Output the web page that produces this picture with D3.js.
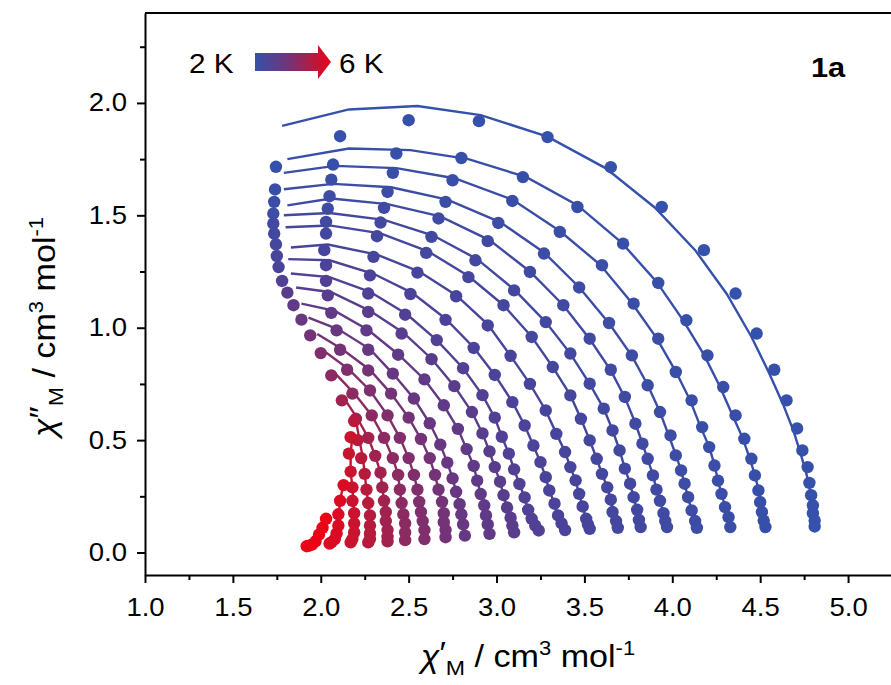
<!DOCTYPE html>
<html>
<head>
<meta charset="utf-8">
<script src="https://cdn.jsdelivr.net/npm/d3@7"></script>
<style>
  body { margin: 0; background: #fff; }
  text { font-family: Arial, "Liberation Sans", sans-serif; fill: #000; }
</style>
</head>
<body>
<svg id="chart" width="891" height="685"></svg>
<script>
// Cole-Cole plot, chi'' vs chi', 2 K -> 6 K

// Temperatures (K)
var temps = [2.0, 2.2, 2.4, 2.6, 2.8, 3.0, 3.2, 3.4, 3.6, 3.8, 4.0,
             4.2, 4.4, 4.6, 4.8, 5.0, 5.2, 5.4, 5.6, 5.8, 6.0];

// Measured points [chi', chi''] per temperature
var measured = [
  [[1.745,1.716],[2.11,1.852],[2.50,1.923],[2.90,1.919],[3.29,1.848],[3.65,1.714],[3.94,1.537],[4.18,1.345],[4.36,1.152],[4.48,0.974],[4.58,0.813],[4.65,0.677],[4.71,0.552],[4.74,0.454],[4.77,0.38],[4.78,0.31],[4.79,0.255],[4.80,0.21],[4.80,0.175],[4.81,0.142],[4.81,0.116]],
  [[1.74,1.615],[2.07,1.726],[2.43,1.775],[2.80,1.755],[3.15,1.67],[3.46,1.537],[3.72,1.374],[3.92,1.199],[4.08,1.033],[4.20,0.877],[4.29,0.736],[4.36,0.61],[4.41,0.506],[4.45,0.417],[4.47,0.343],[4.49,0.276],[4.50,0.224],[4.51,0.18],[4.52,0.142],[4.53,0.113]],
  [[1.735,1.56],[2.06,1.659],[2.41,1.689],[2.75,1.656],[3.09,1.564],[3.36,1.426],[3.60,1.278],[3.78,1.107],[3.92,0.951],[4.02,0.803],[4.11,0.677],[4.17,0.558],[4.21,0.469],[4.24,0.387],[4.26,0.32],[4.28,0.261],[4.30,0.202],[4.32,0.157],[4.33,0.113]],
  [[1.73,1.508],[2.05,1.585],[2.38,1.604],[2.71,1.56],[3.01,1.466],[3.27,1.33],[3.47,1.179],[3.64,1.021],[3.77,0.877],[3.86,0.744],[3.93,0.625],[3.99,0.521],[4.02,0.432],[4.05,0.365],[4.07,0.306],[4.09,0.246],[4.11,0.187],[4.13,0.14],[4.14,0.11]],
  [[1.73,1.463],[2.04,1.53],[2.36,1.533],[2.67,1.486],[2.95,1.385],[3.19,1.248],[3.38,1.10],[3.53,0.951],[3.65,0.813],[3.73,0.692],[3.79,0.573],[3.83,0.484],[3.86,0.417],[3.89,0.343],[3.91,0.28],[3.93,0.23],[3.95,0.175],[3.96,0.14],[3.97,0.113]],
  [[1.735,1.419],[2.03,1.471],[2.34,1.468],[2.63,1.404],[2.88,1.30],[3.10,1.166],[3.28,1.025],[3.42,0.885],[3.53,0.751],[3.61,0.64],[3.66,0.543],[3.70,0.454],[3.73,0.373],[3.76,0.306],[3.78,0.246],[3.80,0.19],[3.81,0.145],[3.82,0.113]],
  [[1.745,1.371],[2.03,1.419],[2.32,1.407],[2.60,1.333],[2.84,1.225],[3.04,1.10],[3.20,0.959],[3.32,0.825],[3.42,0.699],[3.48,0.595],[3.53,0.499],[3.57,0.417],[3.60,0.35],[3.63,0.29],[3.65,0.235],[3.66,0.18],[3.68,0.14],[3.69,0.11]],
  [[1.75,1.319],[2.02,1.345],[2.30,1.315],[2.55,1.245],[2.77,1.14],[2.95,1.01],[3.08,0.875],[3.19,0.75],[3.28,0.632],[3.34,0.528],[3.39,0.447],[3.42,0.38],[3.45,0.321],[3.47,0.261],[3.49,0.205],[3.51,0.15],[3.52,0.125],[3.53,0.105]],
  [[1.76,1.27],[2.03,1.278],[2.28,1.233],[2.51,1.15],[2.71,1.035],[2.87,0.91],[2.99,0.79],[3.09,0.669],[3.16,0.565],[3.21,0.476],[3.25,0.402],[3.28,0.335],[3.30,0.276],[3.33,0.217],[3.35,0.165],[3.37,0.13],[3.39,0.1]],
  [[1.78,1.208],[2.03,1.208],[2.27,1.152],[2.48,1.058],[2.66,0.945],[2.81,0.82],[2.92,0.70],[2.99,0.60],[3.03,0.515],[3.07,0.44],[3.10,0.37],[3.13,0.305],[3.16,0.245],[3.18,0.19],[3.20,0.15],[3.22,0.12],[3.24,0.098]],
  [[1.81,1.156],[2.04,1.144],[2.27,1.07],[2.46,0.974],[2.63,0.86],[2.76,0.74],[2.86,0.625],[2.92,0.53],[2.96,0.45],[2.99,0.38],[3.02,0.315],[3.04,0.255],[3.06,0.2],[3.08,0.155],[3.09,0.12],[3.10,0.09]],
  [[1.845,1.10],[2.06,1.066],[2.26,0.988],[2.44,0.88],[2.59,0.77],[2.70,0.655],[2.78,0.55],[2.83,0.46],[2.87,0.385],[2.89,0.32],[2.91,0.26],[2.93,0.21],[2.94,0.165],[2.95,0.125],[2.96,0.083]],
  [[1.89,1.036],[2.09,0.988],[2.27,0.902],[2.41,0.796],[2.53,0.685],[2.62,0.575],[2.68,0.48],[2.72,0.40],[2.75,0.33],[2.77,0.27],[2.79,0.215],[2.80,0.17],[2.81,0.125],[2.82,0.075]],
  [[1.94,0.966],[2.11,0.902],[2.27,0.81],[2.40,0.707],[2.50,0.60],[2.57,0.505],[2.62,0.42],[2.65,0.345],[2.67,0.28],[2.69,0.225],[2.70,0.175],[2.70,0.135],[2.71,0.1],[2.71,0.068]],
  [[2.0,0.887],[2.15,0.813],[2.28,0.721],[2.38,0.61],[2.45,0.51],[2.50,0.42],[2.53,0.345],[2.55,0.28],[2.56,0.225],[2.57,0.18],[2.58,0.14],[2.59,0.1],[2.59,0.06]],
  [[2.06,0.788],[2.18,0.707],[2.29,0.61],[2.36,0.51],[2.41,0.42],[2.44,0.345],[2.45,0.28],[2.46,0.22],[2.47,0.17],[2.48,0.13],[2.48,0.09],[2.48,0.055]],
  [[2.12,0.677],[2.20,0.595],[2.27,0.51],[2.31,0.43],[2.34,0.355],[2.35,0.29],[2.36,0.23],[2.37,0.18],[2.37,0.14],[2.38,0.1],[2.38,0.07],[2.38,0.05]],
  [[2.19,0.585],[2.21,0.50],[2.23,0.42],[2.25,0.35],[2.26,0.28],[2.27,0.22],[2.28,0.165],[2.28,0.12],[2.28,0.085],[2.28,0.06],[2.27,0.045]],
  [[2.17,0.513],[2.16,0.44],[2.17,0.36],[2.18,0.29],[2.18,0.23],[2.19,0.175],[2.19,0.13],[2.19,0.09],[2.18,0.06],[2.17,0.045]],
  [[2.13,0.30],[2.11,0.23],[2.10,0.17],[2.10,0.12],[2.09,0.085],[2.08,0.06],[2.06,0.045],[2.05,0.04]],
  [[2.03,0.15],[2.01,0.11],[1.99,0.08],[1.97,0.05],[1.95,0.035],[1.93,0.03],[1.92,0.028]]
];

// Fitted curves [chi', chi''] per temperature
var fitted = [
  [[1.78,1.898],[2.16,1.971],[2.55,1.986],[2.91,1.946],[3.29,1.85],[3.62,1.71],[3.90,1.535],[4.13,1.345],[4.31,1.15],[4.45,0.96],[4.55,0.80],[4.63,0.66],[4.69,0.54],[4.73,0.44],[4.76,0.36],[4.78,0.29],[4.80,0.2],[4.81,0.115]],
  [[1.81,1.75],[2.16,1.797],[2.51,1.79],[2.84,1.75],[3.17,1.67],[3.46,1.545],[3.71,1.38],[3.91,1.205],[4.06,1.035],[4.18,0.88],[4.27,0.74],[4.34,0.615],[4.40,0.51],[4.44,0.42],[4.47,0.345],[4.49,0.28],[4.51,0.19],[4.53,0.113]],
  [[1.79,1.689],[2.08,1.72],[2.43,1.71],[2.76,1.665],[3.09,1.57],[3.36,1.43],[3.59,1.28],[3.77,1.11],[3.91,0.955],[4.02,0.805],[4.10,0.68],[4.16,0.56],[4.21,0.47],[4.24,0.39],[4.26,0.32],[4.28,0.26],[4.31,0.18],[4.33,0.113]],
  [[1.79,1.616],[2.07,1.64],[2.40,1.625],[2.72,1.57],[3.02,1.47],[3.27,1.335],[3.47,1.18],[3.64,1.02],[3.77,0.875],[3.86,0.745],[3.93,0.625],[3.98,0.52],[4.02,0.435],[4.05,0.365],[4.07,0.305],[4.09,0.245],[4.11,0.185],[4.14,0.11]],
  [[1.81,1.544],[2.06,1.575],[2.38,1.55],[2.68,1.495],[2.96,1.39],[3.19,1.25],[3.38,1.10],[3.53,0.95],[3.65,0.81],[3.73,0.69],[3.79,0.575],[3.83,0.485],[3.86,0.415],[3.89,0.345],[3.91,0.28],[3.93,0.23],[3.95,0.175],[3.97,0.113]],
  [[1.79,1.50],[2.05,1.51],[2.36,1.48],[2.64,1.41],[2.89,1.305],[3.10,1.17],[3.28,1.025],[3.42,0.885],[3.53,0.75],[3.61,0.64],[3.66,0.545],[3.70,0.455],[3.73,0.375],[3.76,0.305],[3.78,0.245],[3.80,0.19],[3.82,0.113]],
  [[1.80,1.447],[2.05,1.455],[2.34,1.42],[2.61,1.34],[2.84,1.23],[3.04,1.10],[3.20,0.96],[3.32,0.825],[3.42,0.70],[3.48,0.595],[3.53,0.50],[3.57,0.417],[3.60,0.35],[3.63,0.29],[3.65,0.235],[3.67,0.17],[3.69,0.11]],
  [[1.83,1.357],[2.04,1.37],[2.32,1.325],[2.56,1.25],[2.77,1.145],[2.95,1.015],[3.08,0.875],[3.19,0.75],[3.28,0.632],[3.34,0.53],[3.39,0.447],[3.42,0.38],[3.45,0.32],[3.47,0.26],[3.49,0.205],[3.51,0.15],[3.53,0.1]],
  [[1.815,1.305],[2.05,1.30],[2.30,1.24],[2.52,1.155],[2.71,1.04],[2.87,0.912],[2.99,0.79],[3.09,0.67],[3.16,0.565],[3.21,0.476],[3.25,0.40],[3.28,0.335],[3.30,0.276],[3.33,0.217],[3.35,0.165],[3.39,0.1]],
  [[1.83,1.241],[2.05,1.225],[2.28,1.16],[2.49,1.06],[2.66,0.945],[2.81,0.82],[2.92,0.70],[2.99,0.60],[3.03,0.515],[3.07,0.44],[3.10,0.37],[3.13,0.305],[3.16,0.245],[3.18,0.19],[3.21,0.14],[3.24,0.098]],
  [[1.86,1.179],[2.06,1.158],[2.28,1.075],[2.47,0.978],[2.63,0.862],[2.76,0.74],[2.86,0.625],[2.92,0.53],[2.96,0.45],[2.99,0.38],[3.02,0.315],[3.04,0.255],[3.06,0.2],[3.08,0.155],[3.10,0.09]],
  [[1.89,1.107],[2.08,1.075],[2.27,0.99],[2.44,0.882],[2.59,0.77],[2.70,0.655],[2.78,0.55],[2.83,0.46],[2.87,0.385],[2.89,0.32],[2.91,0.26],[2.93,0.21],[2.94,0.165],[2.96,0.083]],
  [[1.93,1.045],[2.10,0.993],[2.28,0.905],[2.41,0.796],[2.53,0.685],[2.62,0.575],[2.68,0.48],[2.72,0.40],[2.75,0.33],[2.77,0.27],[2.79,0.215],[2.80,0.17],[2.82,0.075]],
  [[1.98,0.972],[2.12,0.905],[2.28,0.812],[2.40,0.707],[2.50,0.60],[2.57,0.505],[2.62,0.42],[2.65,0.345],[2.67,0.28],[2.69,0.225],[2.70,0.175],[2.71,0.068]],
  [[2.03,0.89],[2.16,0.815],[2.28,0.721],[2.38,0.61],[2.45,0.51],[2.50,0.42],[2.53,0.345],[2.55,0.28],[2.56,0.225],[2.57,0.18],[2.59,0.06]],
  [[2.09,0.79],[2.19,0.708],[2.29,0.61],[2.36,0.51],[2.41,0.42],[2.44,0.345],[2.45,0.28],[2.46,0.22],[2.47,0.17],[2.48,0.055]],
  [[2.14,0.678],[2.21,0.595],[2.27,0.51],[2.31,0.43],[2.34,0.355],[2.35,0.29],[2.36,0.23],[2.37,0.18],[2.38,0.05]],
  [[2.20,0.59],[2.22,0.50],[2.24,0.42],[2.25,0.35],[2.26,0.28],[2.27,0.22],[2.28,0.12],[2.27,0.045]],
  [[2.18,0.52],[2.17,0.44],[2.17,0.36],[2.18,0.29],[2.19,0.175],[2.19,0.09],[2.17,0.045]],
  [[2.13,0.31],[2.11,0.23],[2.10,0.15],[2.09,0.085],[2.05,0.04]],
  [[2.03,0.155],[2.00,0.10],[1.97,0.05],[1.92,0.028]]
];

// Axis ticks
var xTicks = [1.0, 1.5, 2.0, 2.5, 3.0, 3.5, 4.0, 4.5, 5.0];
var xMinor = [1.25, 1.75, 2.25, 2.75, 3.25, 3.75, 4.25, 4.75, 5.25];
var yTicks = [0.0, 0.5, 1.0, 1.5, 2.0];
var yMinor = [0.25, 0.75, 1.25, 1.75, 2.25];

var svg = d3.select('#chart');
var sx = 1.1;   // lettering is a little wider than plain Arial

var x = d3.scaleLinear().domain([1, 5.25]).range([145, 892]);
var y = d3.scaleLinear().domain([-0.1, 2.4]).range([575, 13]);

var color = d3.scaleLinear()
    .domain([2.0, 3.6, 4.4, 5.0, 5.4, 6.0])
    .range(['#3551ab', '#4a4399', '#683781', '#8c2a62', '#b81a3c', '#ec0416']);

// Fit lines
var line = d3.line()
    .x(function(d) { return x(d[0]); })
    .y(function(d) { return y(d[1]); });

svg.append('g').selectAll('path')
  .data(fitted)
  .enter().append('path')
    .attr('d', line)
    .attr('fill', 'none')
    .attr('stroke', function(d, i) { return color(temps[i]); })
    .attr('stroke-width', 2.4);

// Data points
svg.append('g').selectAll('g')
  .data(measured)
  .enter().append('g')
    .attr('fill', function(d, i) { return color(temps[i]); })
  .selectAll('circle')
  .data(function(d) { return d; })
  .enter().append('circle')
    .attr('cx', function(d) { return x(d[0]); })
    .attr('cy', function(d) { return y(d[1]); })
    .attr('r', 6.2);

// Axes
var fmt = d3.format('.1f');

svg.append('g').attr('class', 'xaxis').attr('transform', 'translate(0,' + y(-0.1) + ')')
  .call(d3.axisBottom(x).tickValues(xTicks).tickSize(8).tickSizeOuter(0).tickPadding(15).tickFormat(fmt));
svg.append('g').attr('transform', 'translate(0,' + y(-0.1) + ')')
  .call(d3.axisBottom(x).tickValues(xMinor).tickSize(5).tickSizeOuter(0).tickFormat(''))
  .select('.domain').remove();

svg.append('g').attr('class', 'yaxis').attr('transform', 'translate(' + x(1) + ',0)')
  .call(d3.axisLeft(y).tickValues(yTicks).tickSize(8).tickSizeOuter(0).tickFormat(fmt));
svg.append('g').attr('transform', 'translate(' + x(1) + ',0)')
  .call(d3.axisLeft(y).tickValues(yMinor).tickSize(5).tickSizeOuter(0).tickFormat(''))
  .select('.domain').remove();

svg.selectAll('.domain').attr('stroke', '#000').attr('stroke-width', 2);
svg.selectAll('.tick line').attr('stroke', '#000').attr('stroke-width', 2);
svg.selectAll('.tick text')
  .attr('font-size', 25)
  .attr('font-family', 'Arial, "Liberation Sans", sans-serif')
  .attr('transform', 'scale(' + sx + ',1)');
svg.selectAll('.yaxis .tick text').attr('x', -18 / sx);

// Top frame line
svg.append('line')
  .attr('x1', x(1)).attr('x2', x(5.25))
  .attr('y1', y(2.4)).attr('y2', y(2.4))
  .attr('stroke', '#000').attr('stroke-width', 2);

// Axis titles
function title(g, prime) {
  g.append('tspan').attr('font-style', 'italic').text('\u03C7');
  g.append('tspan').attr('dy', -3).text(prime);
  g.append('tspan').attr('dy', 11).attr('font-size', 21).text('M');
  g.append('tspan').attr('dy', -8).text(' / cm');
  g.append('tspan').attr('dy', -12).attr('font-size', 20).text('3');
  g.append('tspan').attr('dy', 12).text(' mol');
  g.append('tspan').attr('dy', -12).attr('font-size', 20).text('-1');
}

title(svg.append('text')
  .attr('transform', 'translate(528,667) scale(' + sx + ',1)')
  .attr('text-anchor', 'middle').attr('font-size', 31), '\u2032');

title(svg.append('text')
  .attr('transform', 'translate(55,327) rotate(-90) scale(' + sx + ',1)')
  .attr('text-anchor', 'middle').attr('font-size', 31), '\u2033');

// Legend: 2 K -> 6 K gradient arrow
var grad = svg.append('defs').append('linearGradient')
  .attr('id', 'tgrad').attr('x1', '0%').attr('x2', '100%');
grad.append('stop').attr('offset', '0%').attr('stop-color', color(2.0));
grad.append('stop').attr('offset', '45%').attr('stop-color', color(4.6));
grad.append('stop').attr('offset', '100%').attr('stop-color', color(6.0));

svg.append('text').attr('transform', 'translate(189,73) scale(' + sx + ',1)')
  .attr('font-size', 27).text('2 K');
svg.append('path')
  .attr('d', 'M255,53 L318,53 L318,45 L331,62 L318,79 L318,71 L255,71 Z')
  .attr('fill', 'url(#tgrad)');
svg.append('text').attr('transform', 'translate(339,73) scale(' + sx + ',1)')
  .attr('font-size', 27).text('6 K');

svg.append('text').attr('transform', 'translate(811,77) scale(' + sx + ',1)')
  .attr('font-size', 28).attr('font-weight', 'bold').text('1a');
</script>
</body>
</html>
